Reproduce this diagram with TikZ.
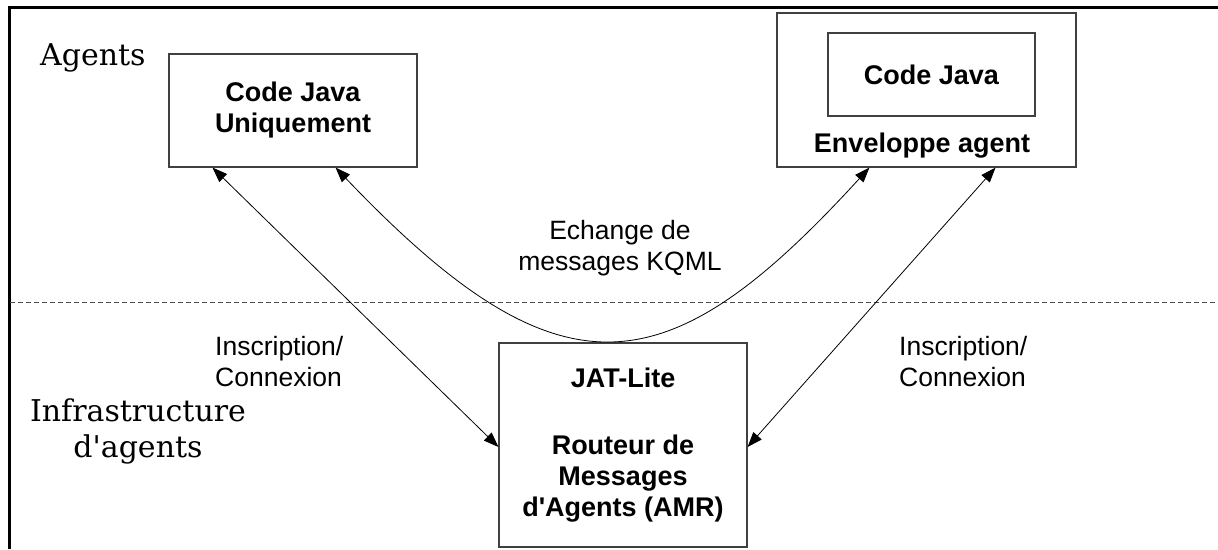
\documentclass[tikz,border=0pt]{standalone}
\usepackage{fontspec}
\setsansfont{Liberation Sans}
\newfontfamily\serf{DejaVu Serif}
\usetikzlibrary{arrows.meta}
\tikzset{
  box/.style={draw=black!75, line width=1.1pt, inner sep=0pt, align=center,
    font=\sffamily\bfseries\fontsize{27}{31}\selectfont},
  lbl/.style={inner sep=0pt, font=\sffamily\fontsize{26.5}{31}\selectfont},
  big/.style={inner sep=0pt, align=center, font=\serf\fontsize{30}{36}\selectfont},
  arr/.style={{Triangle[length=15pt,width=11pt]}-{Triangle[length=15pt,width=11pt]}, line width=0.8pt},
  sep/.style={draw=black!70, dash pattern=on 5pt off 3pt, line width=0.8pt},
  frame/.style={line width=3pt}
}
\begin{document}
\begin{tikzpicture}[x=1pt,y=-1pt]
\useasboundingbox (0,0) rectangle (1218,549);
% frame (top and left edges)
\coordinate (fl) at (9,549);
\coordinate (fc) at (9,7);
\coordinate (fr) at (1220,7);
\draw[frame] (fl) -- (fc) -- (fr);
% separator
\coordinate (s1) at (10,302);
\coordinate (s2) at (1215,302);
\draw[sep] (s1) -- (s2);
% layer labels
\node[big, anchor=base west] (ag) at (40,65) {Agents};
\node[big, anchor=base] (inf) at (138,457) {Infrastructure\\[0pt]d\textquotesingle agents};
% boxes
\node[box, minimum width=248pt, minimum height=113pt] (L) at (293,110.5) {Code Java\\Uniquement};
\node[box, minimum width=299pt, minimum height=154pt] (R) at (926.5,90) {};
\node[box, minimum width=207pt, minimum height=83pt] (Ri) at (931.5,74.5) {Code Java};
\node[box, draw=none, anchor=base] (Rt) at (922,152) {Enveloppe agent};
\node[box, minimum width=248pt, minimum height=204pt] (M) at (623,445)
  {JAT-Lite\\[36pt]Routeur de\\Messages\\d\textquotesingle Agents (AMR)};
% labels
\node[lbl, align=center] (kq) at (620,248) {Echange de\\messages KQML};
\node[lbl, align=left, anchor=west] (il) at (215,362) {Inscription/\\Connexion};
\node[lbl, align=left, anchor=west] (ir) at (899,362) {Inscription/\\Connexion};
% connectors
\draw[arr] ([xshift=44pt]L.south west) -- ([yshift=-2pt]M.west);
\draw[arr] ([xshift=-81pt]R.south east) -- ([yshift=-2pt]M.east);
\draw[arr] ([xshift=-82pt]L.south east) .. controls (562,405) and (668,388) .. ([xshift=93pt]R.south west);
\end{tikzpicture}
\end{document}
